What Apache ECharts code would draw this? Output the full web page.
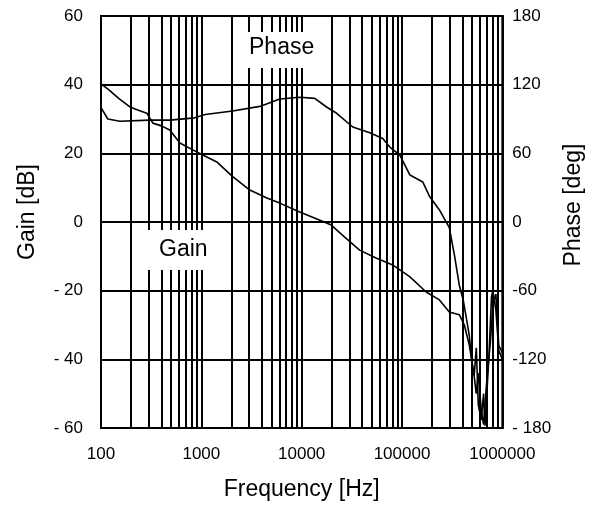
<!DOCTYPE html>
<html>
<head>
<meta charset="utf-8">
<title>Gain / Phase</title>
<script src="https://cdn.jsdelivr.net/npm/echarts@6/dist/echarts.min.js"></script>
<style>
html,body{margin:0;padding:0;background:#fff;}
#main{width:593px;height:511px;}
</style>
</head>
<body>
<div id="main"></div>
<script>
// gain curve (Hz, dB)
var gainFreq = [100,120,150,194,240,286,329,400,485,611,822,1034,1426,2000,3040,4500,6040,9560,15000,19700,27000,37800,55000,80700,120000,174000,236000,296000,372000,418000,468000,514000,550000,576000,617000,650000,700000,760000,805000,862000,921000,1000000];
var gainDb = [40.2,38.5,36,33.5,32.5,31.7,28.8,28,26.8,23,21,19.5,17.5,13.5,9.3,7,5.5,2.9,0.6,-0.9,-4.5,-8.2,-10.5,-12.5,-16,-20.4,-22.7,-26.2,-27,-30,-35.8,-43,-50,-44,-55,-59,-46,-35,-24,-21,-36,-38];

// phase curve (Hz, deg)
var phaseFreq = [100,117,154,307,485,860,1090,2050,3830,6040,9560,13500,17700,22300,32300,47700,64300,75600,95200,120000,161000,189000,236000,296000,333000,372000,407000,440000,468000,500000,524000,550000,576000,617000,650000,672000,736000,780000,805000,862000,921000,1000000];
var phaseDeg = [100,90,88,89,89,91,94,97,101,107.5,109,108,100.5,95,83,78,73,65.5,58.5,41,35,22,10.5,-5,-29,-55,-68,-85,-99,-125,-134,-110,-160,-173,-150,-178,-116,-65,-60,-77,-112,-120];

// tick labels
var freqTicks = [100,1000,10000,100000,1000000];
var freqTickText = ['100','1000','10000','100000','1000000'];
var gainTicks = [-60,-40,-20,0,20,40,60];
var gainTickText = ['- 60','- 40','- 20','0','20','40','60'];
var phaseTicks = [-180,-120,-60,0,60,120,180];
var phaseTickText = ['- 180','-120','-60','0','60','120','180'];

var FONT = '"Liberation Sans", Arial, sans-serif';

function pairs(xs, ys){
    var out = [];
    for(var i = 0; i < xs.length; i++){
        out.push([xs[i], ys[i]]);
    }
    return out;
}

// grid lines at 2..9 of each decade
var minorLines = [];
for(var d = 100; d < 1000000; d *= 10){
    for(var k = 2; k <= 9; k++){
        minorLines.push({xAxis: k * d});
    }
}

function pick(ticks, texts){
    return function(v){
        var i = ticks.indexOf(Math.round(v));
        return i < 0 ? '' : texts[i];
    };
}

var chart = echarts.init(document.getElementById('main'), null, {renderer:'canvas'});

var option = {
    animation: false,
    backgroundColor: '#fff',
    grid: {
        left: 101, right: 90, top: 16, bottom: 83,
        show: true, borderColor: '#000', borderWidth: 2, backgroundColor: 'transparent'
    },
    xAxis: {
        type: 'log', logBase: 10, min: 100, max: 1000000,
        name: 'Frequency [Hz]', nameLocation: 'middle', nameGap: 50,
        nameTextStyle: {fontFamily: FONT, fontSize: 23, color: '#000'},
        axisLine: {show: true, lineStyle: {color: '#000', width: 2}},
        axisTick: {show: false},
        axisLabel: {margin: 18, fontFamily: FONT, fontSize: 17, color: '#000', formatter: pick(freqTicks, freqTickText)},
        splitLine: {show: true, lineStyle: {color: '#000', width: 2}},
        minorTick: {show: false}
    },
    yAxis: [{
        type: 'value', min: -60, max: 60, interval: 20,
        name: 'Gain [dB]', nameLocation: 'middle', nameGap: 62, nameRotate: 90,
        nameTextStyle: {fontFamily: FONT, fontSize: 23, color: '#000', padding: [0, 0, 0, 20]},
        axisLine: {show: true, lineStyle: {color: '#000', width: 2}},
        axisTick: {show: false},
        axisLabel: {margin: 18, fontFamily: FONT, fontSize: 17, color: '#000', formatter: pick(gainTicks, gainTickText)},
        splitLine: {show: true, lineStyle: {color: '#000', width: 2}}
    }, {
        type: 'value', min: -180, max: 180, interval: 60, position: 'right',
        name: 'Phase [deg]', nameLocation: 'middle', nameGap: 57, nameRotate: 90,
        nameTextStyle: {fontFamily: FONT, fontSize: 23, color: '#000', padding: [0, 0, 0, 34]},
        axisLine: {show: true, lineStyle: {color: '#000', width: 2}},
        axisTick: {show: false},
        axisLabel: {margin: 10, fontFamily: FONT, fontSize: 17, color: '#000', formatter: pick(phaseTicks, phaseTickText)},
        splitLine: {show: false}
    }],
    series: [{
        name: 'Gain', type: 'line', yAxisIndex: 0,
        data: pairs(gainFreq, gainDb),
        showSymbol: false, symbol: 'none',
        lineStyle: {color: '#000', width: 1.6},
        z: 5,
        markLine: {
            silent: true, symbol: 'none', animation: false,
            label: {show: false},
            lineStyle: {color: '#000', width: 2, type: 'solid'},
            data: minorLines,
            z: 1
        }
    }, {
        name: 'Phase', type: 'line', yAxisIndex: 1,
        data: pairs(phaseFreq, phaseDeg),
        showSymbol: false, symbol: 'none',
        lineStyle: {color: '#000', width: 1.6},
        z: 5
    }],
    graphic: [{
        type: 'rect', left: 240, top: 32, z: 100,
        shape: {width: 82, height: 36},
        style: {fill: '#fff'}
    }, {
        type: 'text', left: 249, top: 36, z: 101,
        style: {text: 'Phase', font: '23px ' + FONT, fill: '#000'}
    }, {
        type: 'rect', left: 140, top: 230, z: 100,
        shape: {width: 75, height: 40},
        style: {fill: '#fff'}
    }, {
        type: 'text', left: 159, top: 238, z: 101,
        style: {text: 'Gain', font: '23px ' + FONT, fill: '#000'}
    }]
};

chart.setOption(option);
</script>
</body>
</html>
